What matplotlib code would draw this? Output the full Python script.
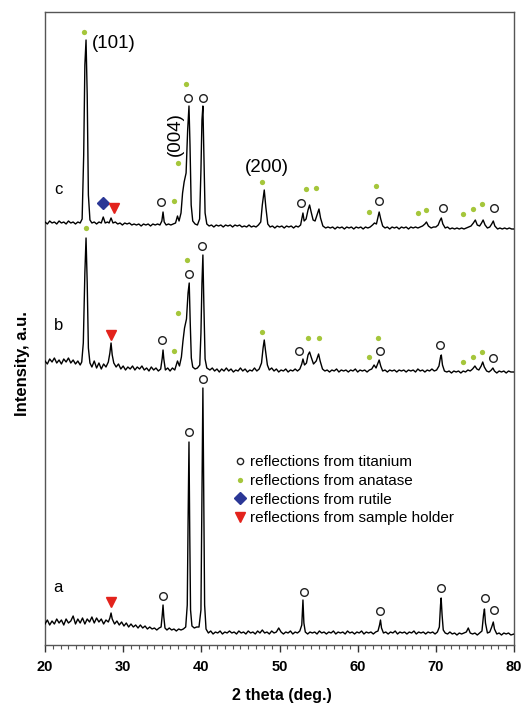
import matplotlib
matplotlib.use("Agg")
import matplotlib.pyplot as plt
from matplotlib.lines import Line2D
from matplotlib.ticker import MultipleLocator
import numpy as np

plt.rcParams['font.family'] = ['Liberation Sans', 'DejaVu Sans']

# XRD scans (2 theta, intensity above the sample's own baseline offset)
scan_a = np.array([
    (20.0, 21), (20.3, 25), (20.6, 20), (20.9, 24), (21.2, 21), (21.5, 26), (21.8, 22), (22.1, 25),
    (22.4, 20), (22.7, 26), (23.0, 22), (23.3, 24), (23.6, 29), (23.9, 21), (24.2, 26), (24.5, 22),
    (24.8, 27), (25.1, 21), (25.4, 26), (25.7, 23), (26.0, 28), (26.3, 22), (26.6, 27), (26.9, 23),
    (27.2, 26), (27.5, 21), (27.8, 25), (28.1, 23), (28.3, 27), (28.45, 32), (28.6, 26), (28.9, 21),
    (29.2, 24), (29.5, 20), (29.8, 23), (30.1, 19), (30.4, 22), (30.7, 18), (31.0, 21), (31.3, 18),
    (31.6, 20), (31.9, 17), (32.2, 20), (32.5, 17), (32.8, 19), (33.1, 16), (33.4, 18), (33.7, 16),
    (34.0, 17), (34.3, 15), (34.6, 17), (34.85, 18), (35.0, 30), (35.1, 40), (35.2, 28), (35.35, 17),
    (35.6, 15), (35.9, 17), (36.2, 15), (36.5, 16), (36.8, 14), (37.1, 16), (37.4, 15), (37.7, 16),
    (38.0, 18), (38.2, 40), (38.3, 120), (38.42, 203), (38.52, 110), (38.62, 35), (38.8, 19), (39.1, 17),
    (39.4, 18), (39.7, 18), (39.95, 35), (40.08, 150), (40.2, 257), (40.3, 160), (40.42, 40), (40.6, 16),
    (40.9, 12), (41.2, 14), (41.5, 11), (41.8, 13), (42.1, 12), (42.4, 14), (42.7, 11), (43.0, 13),
    (43.3, 12), (43.6, 14), (43.9, 12), (44.2, 13), (44.5, 11), (44.8, 14), (45.1, 12), (45.4, 13),
    (45.7, 11), (46.0, 14), (46.3, 12), (46.6, 13), (46.9, 11), (47.2, 14), (47.5, 12), (47.8, 15),
    (48.1, 12), (48.4, 13), (48.7, 11), (49.0, 14), (49.3, 12), (49.6, 13), (49.9, 17), (50.2, 13),
    (50.5, 11), (50.8, 13), (51.1, 12), (51.4, 14), (51.7, 11), (52.0, 13), (52.3, 12), (52.6, 14),
    (52.85, 20), (53.0, 45), (53.12, 22), (53.3, 13), (53.6, 11), (53.9, 13), (54.2, 12), (54.5, 13),
    (54.8, 11), (55.1, 14), (55.4, 12), (55.7, 13), (56.0, 11), (56.3, 13), (56.6, 12), (56.9, 14),
    (57.2, 11), (57.5, 13), (57.8, 12), (58.1, 13), (58.4, 11), (58.7, 14), (59.0, 12), (59.3, 13),
    (59.6, 11), (59.9, 13), (60.2, 12), (60.5, 14), (60.8, 11), (61.1, 13), (61.4, 12), (61.7, 13),
    (62.0, 11), (62.3, 13), (62.6, 14), (62.8, 20), (62.92, 25), (63.05, 17), (63.3, 12), (63.6, 13),
    (63.9, 11), (64.2, 13), (64.5, 12), (64.8, 14), (65.1, 11), (65.4, 13), (65.7, 12), (66.0, 13),
    (66.3, 11), (66.6, 13), (66.9, 12), (67.2, 14), (67.5, 11), (67.8, 13), (68.1, 12), (68.4, 13),
    (68.7, 11), (69.0, 13), (69.3, 12), (69.6, 13), (69.9, 11), (70.2, 13), (70.45, 18), (70.6, 40),
    (70.68, 47), (70.8, 30), (70.95, 15), (71.2, 12), (71.5, 11), (71.8, 13), (72.1, 11), (72.4, 12),
    (72.7, 10), (73.0, 12), (73.3, 11), (73.6, 12), (73.9, 13), (74.15, 17), (74.4, 12), (74.7, 11),
    (75.0, 12), (75.3, 10), (75.6, 12), (75.9, 14), (76.1, 30), (76.22, 36), (76.35, 22), (76.6, 12),
    (76.9, 13), (77.15, 18), (77.35, 23), (77.5, 16), (77.8, 11), (78.1, 12), (78.4, 10), (78.7, 12),
    (79.0, 11), (79.3, 12), (79.6, 10), (80.0, 11),
])

scan_b = np.array([
    (20.0, 22), (20.3, 19), (20.6, 24), (20.9, 21), (21.2, 25), (21.5, 20), (21.8, 23), (22.1, 19),
    (22.4, 24), (22.7, 21), (23.0, 25), (23.3, 20), (23.6, 23), (23.9, 19), (24.2, 22), (24.5, 18),
    (24.7, 21), (24.9, 40), (25.1, 110), (25.25, 145), (25.4, 100), (25.55, 35), (25.75, 20), (26.0, 16),
    (26.3, 22), (26.6, 15), (26.9, 20), (27.2, 14), (27.5, 19), (27.8, 16), (28.1, 21), (28.3, 30),
    (28.45, 40), (28.6, 28), (28.8, 20), (29.1, 16), (29.4, 19), (29.7, 14), (30.0, 17), (30.3, 13),
    (30.6, 16), (30.9, 14), (31.2, 17), (31.5, 13), (31.8, 16), (32.1, 14), (32.4, 17), (32.7, 13),
    (33.0, 15), (33.3, 12), (33.6, 16), (33.9, 13), (34.2, 15), (34.5, 12), (34.8, 14), (35.0, 25),
    (35.1, 33), (35.2, 24), (35.4, 13), (35.7, 15), (36.0, 12), (36.3, 15), (36.6, 13), (36.95, 22),
    (37.2, 17), (37.45, 26), (37.65, 42), (37.85, 55), (38.1, 64), (38.3, 90), (38.45, 100), (38.58, 60),
    (38.72, 25), (38.9, 16), (39.2, 14), (39.5, 15), (39.8, 18), (39.95, 50), (40.08, 100), (40.2, 128),
    (40.32, 80), (40.48, 24), (40.7, 15), (41.1, 13), (41.4, 15), (41.7, 12), (42.0, 14), (42.3, 11),
    (42.6, 14), (42.9, 12), (43.2, 15), (43.5, 12), (43.8, 14), (44.1, 11), (44.4, 13), (44.7, 12),
    (45.0, 15), (45.3, 12), (45.6, 14), (45.9, 11), (46.2, 13), (46.5, 12), (46.8, 15), (47.1, 12),
    (47.4, 14), (47.7, 20), (47.9, 35), (48.05, 43), (48.2, 33), (48.45, 18), (48.7, 13), (49.0, 15),
    (49.3, 12), (49.6, 14), (49.9, 11), (50.2, 13), (50.5, 12), (50.8, 14), (51.1, 11), (51.4, 13),
    (51.7, 12), (52.0, 14), (52.3, 12), (52.6, 14), (52.85, 19), (53.0, 24), (53.2, 18), (53.45, 20),
    (53.65, 28), (53.85, 31), (54.05, 26), (54.35, 19), (54.7, 22), (55.0, 29), (55.2, 22), (55.5, 14),
    (55.8, 12), (56.1, 13), (56.4, 11), (56.7, 13), (57.0, 12), (57.3, 14), (57.6, 11), (57.9, 13),
    (58.2, 12), (58.5, 13), (58.8, 11), (59.1, 13), (59.4, 12), (59.7, 14), (60.0, 11), (60.3, 13),
    (60.6, 12), (60.9, 13), (61.2, 11), (61.5, 13), (61.8, 14), (62.1, 18), (62.35, 15), (62.6, 20),
    (62.75, 23), (62.95, 17), (63.2, 12), (63.5, 13), (63.8, 11), (64.1, 13), (64.4, 12), (64.7, 13),
    (65.0, 11), (65.3, 13), (65.6, 12), (65.9, 13), (66.2, 11), (66.5, 13), (66.8, 12), (67.1, 13),
    (67.4, 11), (67.7, 14), (68.0, 12), (68.3, 13), (68.6, 11), (68.9, 13), (69.2, 12), (69.5, 14),
    (69.8, 12), (70.1, 13), (70.4, 17), (70.6, 26), (70.7, 28), (70.85, 18), (71.1, 12), (71.4, 11),
    (71.7, 12), (72.0, 10), (72.3, 12), (72.6, 11), (72.9, 12), (73.2, 10), (73.5, 12), (73.8, 11),
    (74.1, 13), (74.4, 12), (74.7, 14), (75.0, 17), (75.25, 14), (75.5, 13), (75.8, 17), (76.0, 21),
    (76.2, 16), (76.5, 12), (76.8, 11), (77.1, 13), (77.3, 15), (77.5, 12), (77.8, 10), (78.1, 12),
    (78.4, 11), (78.7, 12), (79.0, 10), (79.3, 12), (79.6, 11), (80.0, 11),
])

scan_c = np.array([
    (20.0, 23), (20.3, 21), (20.6, 24), (20.9, 22), (21.2, 23), (21.5, 21), (21.8, 24), (22.1, 22),
    (22.4, 23), (22.7, 21), (23.0, 24), (23.3, 22), (23.6, 23), (23.9, 21), (24.2, 23), (24.5, 22),
    (24.75, 26), (24.95, 90), (25.1, 180), (25.25, 205), (25.4, 150), (25.55, 50), (25.75, 25), (26.0, 22),
    (26.3, 23), (26.6, 21), (26.9, 23), (27.2, 22), (27.45, 28), (27.7, 22), (28.0, 23), (28.2, 22),
    (28.45, 27), (28.7, 22), (29.0, 23), (29.3, 21), (29.6, 22), (29.9, 20), (30.2, 22), (30.5, 21),
    (30.8, 22), (31.1, 20), (31.4, 21), (31.7, 20), (32.0, 21), (32.3, 19), (32.6, 21), (32.9, 20),
    (33.2, 21), (33.5, 19), (33.8, 21), (34.1, 20), (34.4, 21), (34.7, 20), (34.95, 24), (35.1, 33),
    (35.25, 23), (35.5, 20), (35.8, 21), (36.1, 20), (36.4, 21), (36.7, 22), (36.95, 29), (37.15, 24),
    (37.4, 32), (37.6, 52), (37.8, 63), (38.05, 72), (38.25, 115), (38.42, 139), (38.55, 100), (38.7, 40),
    (38.9, 24), (39.2, 21), (39.5, 20), (39.78, 26), (39.95, 75), (40.08, 125), (40.2, 139), (40.32, 95),
    (40.48, 32), (40.7, 21), (41.0, 19), (41.3, 20), (41.6, 18), (41.9, 20), (42.2, 19), (42.5, 20),
    (42.8, 18), (43.1, 20), (43.4, 19), (43.7, 20), (44.0, 18), (44.3, 20), (44.6, 19), (44.9, 20),
    (45.2, 18), (45.5, 19), (45.8, 18), (46.1, 20), (46.4, 18), (46.7, 19), (47.0, 18), (47.3, 20),
    (47.6, 23), (47.8, 40), (48.05, 55), (48.25, 38), (48.5, 21), (48.8, 18), (49.1, 19), (49.4, 17),
    (49.7, 19), (50.0, 18), (50.3, 19), (50.6, 17), (50.9, 19), (51.2, 18), (51.5, 19), (51.8, 17),
    (52.1, 19), (52.4, 18), (52.7, 20), (52.9, 28), (53.0, 32), (53.15, 24), (53.4, 26), (53.65, 35),
    (53.85, 40), (54.05, 33), (54.3, 25), (54.55, 24), (54.8, 30), (55.05, 36), (55.25, 27), (55.55, 19),
    (55.9, 17), (56.2, 18), (56.5, 17), (56.8, 18), (57.1, 16), (57.4, 18), (57.7, 17), (58.0, 18),
    (58.3, 16), (58.6, 18), (58.9, 17), (59.2, 18), (59.5, 16), (59.8, 18), (60.1, 17), (60.4, 18),
    (60.7, 16), (61.0, 18), (61.3, 17), (61.6, 18), (61.9, 20), (62.15, 22), (62.4, 21), (62.6, 28),
    (62.75, 33), (62.95, 26), (63.2, 19), (63.5, 17), (63.8, 18), (64.1, 16), (64.4, 18), (64.7, 17),
    (65.0, 18), (65.3, 16), (65.6, 18), (65.9, 17), (66.2, 18), (66.5, 16), (66.8, 18), (67.1, 17),
    (67.4, 18), (67.7, 17), (68.0, 18), (68.3, 19), (68.6, 21), (68.8, 23), (69.05, 19), (69.4, 17),
    (69.7, 18), (70.0, 18), (70.3, 20), (70.5, 24), (70.7, 27), (70.9, 21), (71.2, 17), (71.5, 18),
    (71.8, 16), (72.1, 17), (72.4, 16), (72.7, 17), (73.0, 16), (73.3, 17), (73.6, 16), (73.9, 17),
    (74.2, 18), (74.5, 19), (74.8, 22), (75.05, 25), (75.3, 20), (75.6, 19), (75.85, 22), (76.05, 25),
    (76.3, 20), (76.6, 17), (76.9, 18), (77.15, 21), (77.35, 24), (77.55, 19), (77.9, 16), (78.2, 17),
    (78.5, 16), (78.8, 17), (79.1, 16), (79.4, 17), (79.7, 16), (80.0, 16),
])

# phase markers per sample: (2 theta, height above sample offset)
titanium = {
    'a': [(35.1, 49), (38.42, 213), (40.17, 266), (53.1, 53), (62.9, 34), (70.7, 57), (76.35, 47), (77.5, 35)],
    'b': [(35.0, 43), (38.45, 109), (40.1, 137), (52.45, 32), (62.8, 32), (70.55, 38), (77.35, 25)],
    'c': [(34.9, 43), (38.25, 147), (40.2, 147), (52.8, 42), (62.7, 44), (70.9, 37), (77.5, 37)],
}
anatase = {
    'b': [(25.24, 155), (36.47, 32), (37.02, 70), (38.14, 123), (47.8, 51), (53.63, 45), (55.03, 45),
          (61.5, 26), (62.57, 45), (73.5, 21), (74.7, 26), (75.9, 31)],
    'c': [(25.02, 213), (36.47, 44), (37.02, 82), (38.0, 161), (47.7, 63), (53.4, 56), (54.7, 57),
          (61.5, 33), (62.36, 59), (67.7, 32), (68.75, 35), (73.5, 31), (74.7, 36), (75.9, 41)],
}
rutile = {'c': [(27.45, 42)]}
holder = {'a': [(28.45, 43)], 'b': [(28.5, 48)], 'c': [(28.8, 37)]}

samples = ['a', 'b', 'c']
scans = {'a': scan_a, 'b': scan_b, 'c': scan_c}
offsets = {'a': 0, 'b': 262, 'c': 400}

ti_style = dict(ls='none', marker='o', ms=5.5, mfc='white', mec='#222222', mew=1.0)
an_style = dict(ls='none', marker='o', ms=3.8, mfc='#a5c63b', mec='none')
ru_style = dict(ls='none', marker='D', ms=6.5, mfc='#2b3796', mec='#2b3796')
ho_style = dict(ls='none', marker='v', ms=7, mfc='#e3231c', mec='#e3231c')

fig = plt.figure(figsize=(5.25, 7.07), dpi=100)
ax = fig.add_axes([45 / 525, 62 / 707, 469 / 525, 633 / 707])

for s in samples:
    d = scans[s]
    off = offsets[s]
    ax.plot(d[:, 0], d[:, 1] + off, color='black', lw=1.0, zorder=3)
    for group, style in [(titanium, ti_style), (anatase, an_style), (rutile, ru_style), (holder, ho_style)]:
        pts = group.get(s)
        if pts:
            p = np.array(pts)
            ax.plot(p[:, 0], p[:, 1] + off, zorder=4, **style)
    ax.text(21.7, offsets[s] + {'a': 57, 'b': 58, 'c': 55}[s], s, fontsize=12,
            ha='center', va='center')

# reflection indices of anatase
ax.text(26.0, 602, '(101)', fontsize=13.5, ha='left', va='center')
ax.text(36.67, 511, '(004)', fontsize=13.5, ha='center', va='center', rotation=90)
ax.text(48.35, 478, '(200)', fontsize=13.5, ha='center', va='center')

ax.set_xlim(20, 80)
ax.set_ylim(0, 633)
ax.xaxis.set_major_locator(MultipleLocator(10))
ax.xaxis.set_minor_locator(MultipleLocator(1))
ax.set_yticks([])
ax.tick_params(axis='x', which='major', direction='out', length=5, width=1, pad=6,
               labelsize=10.5, colors='#333333', labelcolor='black')
ax.tick_params(axis='x', which='minor', direction='out', length=3, width=0.8, colors='#555555')
for lab in ax.get_xticklabels():
    lab.set_fontweight('bold')
for sp in ax.spines.values():
    sp.set_color('#555555')
    sp.set_linewidth(1.0)

ax.set_xlabel('2 theta (deg.)', fontsize=11.5, fontweight='bold')
ax.xaxis.set_label_coords(0.505, -0.068)
ax.set_ylabel('Intensity, a.u.', fontsize=12, fontweight='bold')
ax.yaxis.set_label_coords(-0.032, 0.444)

handles = [
    Line2D([], [], **dict(ti_style, ms=4.5)),
    Line2D([], [], **an_style),
    Line2D([], [], **ru_style),
    Line2D([], [], **ho_style),
]
labels = ['reflections from titanium', 'reflections from anatase',
          'reflections from rutile', 'reflections from sample holder']
ax.legend(handles, labels, loc='upper left', bbox_to_anchor=(0.405, 0.2995),
          frameon=False, fontsize=11, handlelength=0.7, handletextpad=0.3,
          labelspacing=0.3, borderpad=0, borderaxespad=0)

fig.savefig('out.png', dpi=100)
